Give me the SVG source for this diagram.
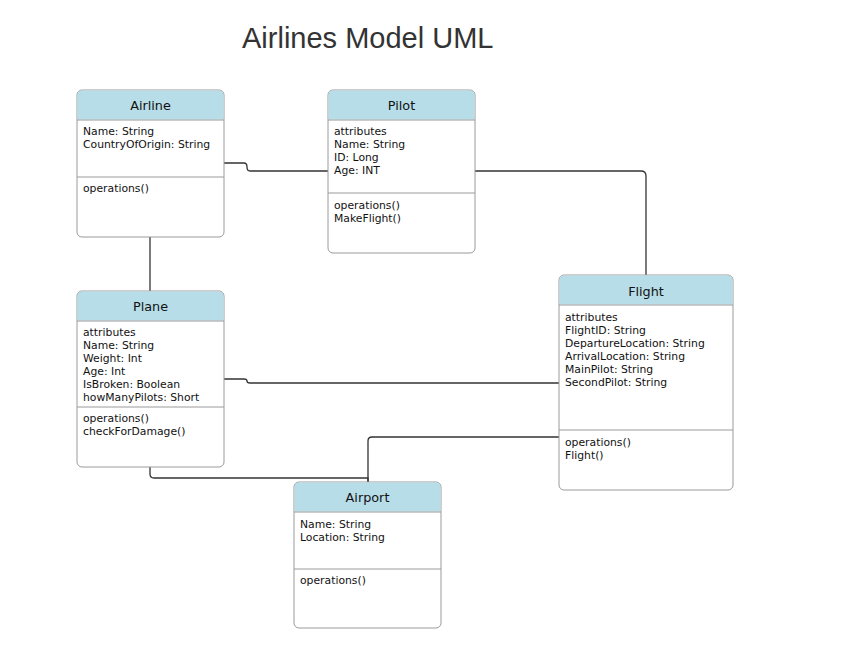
<svg xmlns="http://www.w3.org/2000/svg" width="856" height="646" viewBox="0 0 856 646">
<style>
.box{fill:#fff;stroke:#9a9a9a;stroke-width:1}
.hdr{fill:#b7dde8}
.sep{stroke:#9a9a9a;stroke-width:1}
.ttl{font-family:"DejaVu Sans",Verdana,sans-serif;font-size:12.8px;fill:#111;text-anchor:middle}
.txt{font-family:"DejaVu Sans",Verdana,sans-serif;font-size:10.8px;fill:#111}
.conn{fill:none;stroke:#333;stroke-width:1.3}
</style>
<rect width="856" height="646" fill="#fff"/>
<text x="242" y="48" font-family="Liberation Sans,Arial,sans-serif" font-size="29" fill="#333">Airlines Model UML</text>
<g id="connectors">
<path class="conn" d="M224,163 H244 Q247,163 247,167 Q247,171 250,171 H328"/>
<path class="conn" d="M475,171 H641 Q646,171 646,176 V275"/>
<path class="conn" d="M150,237 V291"/>
<path class="conn" d="M224,379 H244 Q247,379 247,381 Q247,383 250,383 H559"/>
<path class="conn" d="M150,467 V474 Q150,478 154,478 H368 V482"/>
<path class="conn" d="M368,482 V441 Q368,437 372,437 H559"/>
</g>
<g id="airline">
<rect class="box" x="77" y="90" width="147" height="147" rx="5"/>
<path class="hdr" d="M82,90.5 H219 Q223.5,90.5 223.5,95 V119.5 H77.5 V95 Q77.5,90.5 82,90.5 Z"/>
<line class="sep" x1="77" y1="120" x2="224" y2="120"/>
<line class="sep" x1="77" y1="177" x2="224" y2="177"/>
<text class="ttl" x="150.5" y="110">Airline</text>
<text class="txt" x="83" y="135">Name: String</text>
<text class="txt" x="83" y="148">CountryOfOrigin: String</text>
<text class="txt" x="83" y="192">operations()</text>
</g>
<g id="pilot">
<rect class="box" x="328" y="90" width="147" height="163" rx="5"/>
<path class="hdr" d="M333,90.5 H470 Q474.5,90.5 474.5,95 V119.5 H328.5 V95 Q328.5,90.5 333,90.5 Z"/>
<line class="sep" x1="328" y1="120" x2="475" y2="120"/>
<line class="sep" x1="328" y1="193" x2="475" y2="193"/>
<text class="ttl" x="401.5" y="110">Pilot</text>
<text class="txt" x="334" y="135">attributes</text>
<text class="txt" x="334" y="148">Name: String</text>
<text class="txt" x="334" y="161">ID: Long</text>
<text class="txt" x="334" y="174">Age: INT</text>
<text class="txt" x="334" y="209">operations()</text>
<text class="txt" x="334" y="222">MakeFlight()</text>
</g>
<g id="plane">
<rect class="box" x="77" y="291" width="147" height="176" rx="5"/>
<path class="hdr" d="M82,291.5 H219 Q223.5,291.5 223.5,296 V320.5 H77.5 V296 Q77.5,291.5 82,291.5 Z"/>
<line class="sep" x1="77" y1="321" x2="224" y2="321"/>
<line class="sep" x1="77" y1="407" x2="224" y2="407"/>
<text class="ttl" x="150.5" y="311">Plane</text>
<text class="txt" x="83" y="336">attributes</text>
<text class="txt" x="83" y="349">Name: String</text>
<text class="txt" x="83" y="362">Weight: Int</text>
<text class="txt" x="83" y="375">Age: Int</text>
<text class="txt" x="83" y="388">IsBroken: Boolean</text>
<text class="txt" x="83" y="401">howManyPilots: Short</text>
<text class="txt" x="83" y="422">operations()</text>
<text class="txt" x="83" y="435">checkForDamage()</text>
</g>
<g id="flight">
<rect class="box" x="559" y="275" width="174" height="215" rx="5"/>
<path class="hdr" d="M564,275.5 H728 Q732.5,275.5 732.5,280 V304.5 H559.5 V280 Q559.5,275.5 564,275.5 Z"/>
<line class="sep" x1="559" y1="305" x2="733" y2="305"/>
<line class="sep" x1="559" y1="430" x2="733" y2="430"/>
<text class="ttl" x="646" y="296">Flight</text>
<text class="txt" x="565" y="321">attributes</text>
<text class="txt" x="565" y="334">FlightID: String</text>
<text class="txt" x="565" y="347">DepartureLocation: String</text>
<text class="txt" x="565" y="360">ArrivalLocation: String</text>
<text class="txt" x="565" y="373">MainPilot: String</text>
<text class="txt" x="565" y="386">SecondPilot: String</text>
<text class="txt" x="565" y="446">operations()</text>
<text class="txt" x="565" y="459">Flight()</text>
</g>
<g id="airport">
<rect class="box" x="294" y="482" width="147" height="146" rx="5"/>
<path class="hdr" d="M299,482.5 H436 Q440.5,482.5 440.5,487 V511.5 H294.5 V487 Q294.5,482.5 299,482.5 Z"/>
<line class="sep" x1="294" y1="512" x2="441" y2="512"/>
<line class="sep" x1="294" y1="569" x2="441" y2="569"/>
<text class="ttl" x="367.5" y="502">Airport</text>
<text class="txt" x="300" y="528">Name: String</text>
<text class="txt" x="300" y="541">Location: String</text>
<text class="txt" x="300" y="584">operations()</text>
</g>
</svg>
